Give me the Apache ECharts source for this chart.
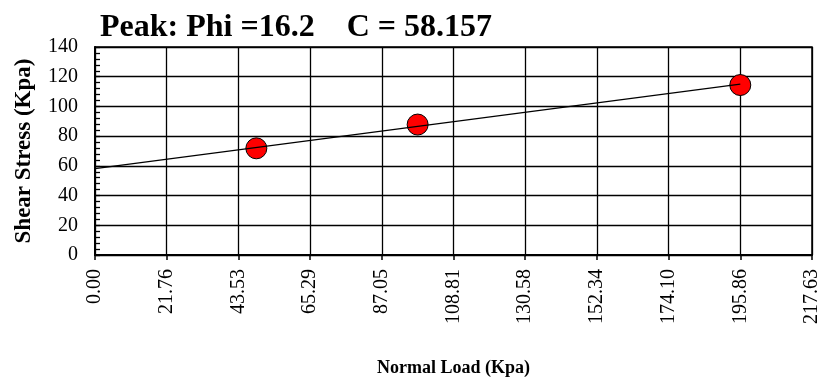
<!DOCTYPE html>
<html>
<head>
<meta charset="utf-8">
<script src="https://cdn.jsdelivr.net/npm/echarts@6/dist/echarts.min.js"></script>
<style>
  html, body { margin: 0; padding: 0; background: #ffffff; }
  #chart { width: 824px; height: 378px; }
</style>
</head>
<body>
<div id="chart"></div>
<script>
// Direct shear test, peak envelope
const normalLoad = [48.97, 97.93, 195.86];      // Kpa
const shearStress = [71.8, 87.8, 114.4];        // Kpa
const phiDeg = 16.2;                            // friction angle
const cohesion = 58.157;                        // Kpa
const xTickLabels = ['0.00', '21.76', '43.53', '65.29', '87.05', '108.81',
                     '130.58', '152.34', '174.10', '195.86', '217.63'];
const yTicks = [0, 20, 40, 60, 80, 100, 120, 140];

const xStep = 21.7626;
const xMax = xStep * (xTickLabels.length - 1);
const yStep = yTicks[1] - yTicks[0];

// Mohr-Coulomb envelope: tau = c + sigma * tan(phi)
const slope = Math.tan(phiDeg * Math.PI / 180);
const loadMax = Math.max(...normalLoad);
const envelope = [[0, cohesion], [loadMax, cohesion + loadMax * slope]];

const serif = '"Liberation Serif", "Times New Roman", serif';

const chart = echarts.init(document.getElementById('chart'));
chart.setOption({
  animation: false,
  backgroundColor: '#ffffff',
  title: {
    text: 'Peak: Phi =' + phiDeg + '    C = ' + cohesion,
    left: 95,
    top: 7,
    textStyle: { fontFamily: serif, fontWeight: 'bold', fontSize: 32, color: '#000' }
  },
  grid: {
    left: 95, right: 12, top: 47, bottom: 123,
    containLabel: false,
    outerBoundsMode: 'none',
    show: true, borderColor: '#000', borderWidth: 1.5, backgroundColor: 'transparent'
  },
  xAxis: {
    type: 'value',
    min: 0, max: xMax, interval: xStep,
    name: 'Normal Load (Kpa)',
    nameLocation: 'middle',
    nameGap: 104,
    nameTextStyle: { fontFamily: serif, fontWeight: 'bold', fontSize: 18, color: '#000' },
    axisLine: { show: true, onZero: false, lineStyle: { color: '#000', width: 2 } },
    axisTick: { show: true, length: 5, lineStyle: { color: '#000', width: 1.5 } },
    splitLine: { show: true, lineStyle: { color: '#000', width: 1.3 } },
    axisLabel: {
      rotate: 90, margin: 14,
      fontFamily: serif, fontSize: 20, color: '#000',
      formatter: v => xTickLabels[Math.round(v / xStep)] ?? ''
    }
  },
  yAxis: {
    type: 'value',
    min: yTicks[0], max: yTicks[yTicks.length - 1], interval: yStep,
    name: 'Shear Stress (Kpa)',
    nameLocation: 'middle',
    nameGap: 59,
    nameTextStyle: { fontFamily: serif, fontWeight: 'bold', fontSize: 23, color: '#000' },
    axisLine: { show: true, lineStyle: { color: '#000', width: 2 } },
    axisTick: { show: true, inside: true, length: 5, lineStyle: { color: '#000', width: 1.3 } },
    minorTick: { show: true, splitNumber: 5, length: 5, lineStyle: { color: '#000', width: 1.3 } },
    splitLine: { show: true, lineStyle: { color: '#000', width: 1.3 } },
    axisLabel: {
      margin: 17,
      fontFamily: serif, fontSize: 20, color: '#000',
      formatter: v => String(v)
    }
  },
  series: [
    {
      type: 'line',
      data: envelope,
      showSymbol: false,
      lineStyle: { color: '#000', width: 1.2 },
      z: 3
    },
    {
      type: 'scatter',
      data: normalLoad.map((x, i) => [x, shearStress[i]]),
      symbol: 'circle',
      symbolSize: 21,
      itemStyle: { color: '#ff0000', borderColor: '#000', borderWidth: 1, opacity: 1 },
      z: 2
    }
  ]
});
</script>
</body>
</html>
